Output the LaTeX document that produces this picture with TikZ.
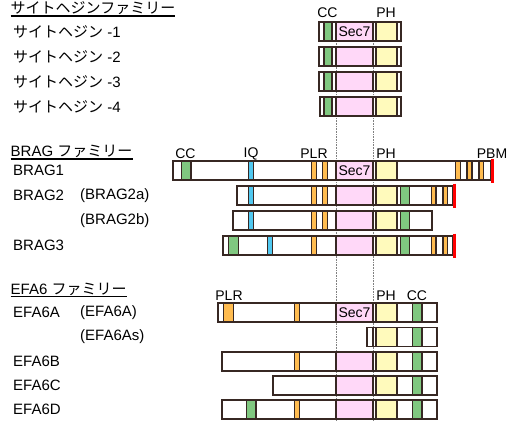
\documentclass[tikz,border=0pt]{standalone}
\usepackage{fontspec}
\setmainfont{Liberation Sans}
\newfontfamily\jpfont{Noto Sans CJK JP}
\definecolor{dom}{RGB}{55,40,35}
\definecolor{ccgreen}{RGB}{128,200,128}
\definecolor{secpink}{RGB}{255,216,248}
\definecolor{phyellow}{RGB}{255,250,188}
\definecolor{plrorange}{RGB}{255,188,80}
\definecolor{iqcyan}{RGB}{80,200,240}
\begin{document}
\begin{tikzpicture}[x=1pt,y=-1pt,
  seg/.style={draw=dom,line width=1.4pt},
  outline/.style={draw=dom,line width=1.8pt},
  lbl/.style={font=\fontsize{14}{16}\selectfont,inner sep=0pt},
  itemtxt/.style={font=\fontsize{15}{18}\selectfont,anchor=west,inner sep=0pt},
  famtxt/.style={font=\fontsize{15}{18}\selectfont,anchor=base west,inner sep=0pt},
  uline/.style={line width=1.3pt},
  guide/.style={gray,densely dotted,line width=0.6pt},
  pbm/.style={red,line width=3pt}]
\useasboundingbox (0,0) rectangle (507,421);
% guide lines for Sec7
\draw [guide] (336,22) -- (336,421);
\draw [guide] (373,22) -- (373,421);
% cytohesin family
\node [famtxt] (cytfam) at (10.5,13.5) {\jpfont サイトヘジンファミリー};
\draw [uline] (cytfam.west |- 0,16) -- (cytfam.east |- 0,16);
\node [itemtxt] (cyt1) at (13,31.5) {{\jpfont サイトヘジン} -1};
\node [itemtxt] (cyt2) at (13,56.5) {{\jpfont サイトヘジン} -2};
\node [itemtxt] (cyt3) at (13,81.5) {{\jpfont サイトヘジン} -3};
\node [itemtxt] (cyt4) at (13,106.5) {{\jpfont サイトヘジン} -4};
\foreach \y/\s in {31.5/319,56.5/319,81.5/319,106.5/320} {
  \foreach \a/\b/\c in {\s/324/white,324/332/ccgreen,332/336/white,336/373/secpink,373/376/white,376/397/phyellow,397/401/white}
    \draw [seg,fill=\c] (\a,\y-9.5) rectangle (\b,\y+9.5);
  \draw [outline] (\s,\y-9.5) rectangle (401,\y+9.5);
}
\node [lbl] (cytcc) at (327.5,13) {CC};
\node [lbl] (cytph) at (386,13) {PH};
\node [lbl] (cytsec) at (354.5,31.5) {Sec7};
% BRAG family
\node [famtxt] (bragfam) at (10.5,156.5) {BRAG {\jpfont ファミリー}};
\draw [uline] (bragfam.west |- 0,159) -- (bragfam.east |- 0,159);
\node [itemtxt] (brag1) at (13,170.5) {BRAG1};
\node [itemtxt] (brag2) at (13,195.5) {BRAG2};
\node [itemtxt] (brag2a) at (80,195.5) {(BRAG2a)};
\node [itemtxt] (brag2b) at (80,220.5) {(BRAG2b)};
\node [itemtxt] (brag3) at (13,245.5) {BRAG3};
% BRAG1
\foreach \a/\b/\c in {173/181.5/white,181.5/191/ccgreen,191/248.5/white,248.5/253.5/iqcyan,253.5/311.5/white,311.5/316.5/plrorange,316.5/322.5/white,322.5/327.5/plrorange,327.5/336/white,336/373/secpink,373/376/white,376/397/phyellow,397/455.5/white,455.5/460.5/plrorange,460.5/467/white,467/472/plrorange,472/479/white,479/483.5/plrorange,483.5/491/white}
  \draw [seg,fill=\c] (\a,161) rectangle (\b,180);
\draw [outline] (173,161) rectangle (491,180);
\draw [pbm] (492,159) -- (492,183);
% BRAG2a
\foreach \a/\b/\c in {237/248.5/white,248.5/253.5/iqcyan,253.5/311.5/white,311.5/316.5/plrorange,316.5/322.5/white,322.5/327.5/plrorange,327.5/336/white,336/373/secpink,373/376/white,376/397/phyellow,397/400.5/white,400.5/409.5/ccgreen,409.5/431.5/white,431.5/436/plrorange,436/443/white,443/447.5/plrorange,447.5/452.5/white}
  \draw [seg,fill=\c] (\a,186) rectangle (\b,205);
\draw [outline] (237,186) rectangle (452.5,205);
\draw [pbm] (454,183.5) -- (454,207.5);
% BRAG2b
\foreach \a/\b/\c in {233/248.5/white,248.5/253.5/iqcyan,253.5/311.5/white,311.5/316.5/plrorange,316.5/322.5/white,322.5/327.5/plrorange,327.5/336/white,336/373/secpink,373/376/white,376/397/phyellow,397/400.5/white,400.5/409.5/ccgreen,409.5/432/white}
  \draw [seg,fill=\c] (\a,211) rectangle (\b,230);
\draw [outline] (233,211) rectangle (432,230);
% BRAG3
\foreach \a/\b/\c in {223/228.5/white,228.5/238.5/ccgreen,238.5/267.5/white,267.5/272.5/iqcyan,272.5/311.5/white,311.5/316.5/plrorange,316.5/336/white,336/373/secpink,373/376/white,376/397/phyellow,397/400.5/white,400.5/409.5/ccgreen,409.5/431.5/white,431.5/436/plrorange,436/443/white,443/447.5/plrorange,447.5/452.5/white}
  \draw [seg,fill=\c] (\a,236) rectangle (\b,255);
\draw [outline] (223,236) rectangle (452.5,255);
\draw [pbm] (454,233.5) -- (454,257.5);
\node [lbl] (bragcc) at (185.5,154) {CC};
\node [lbl] (bragiq) at (251,154) {IQ};
\node [lbl] (bragplr) at (314,154) {PLR};
\node [lbl] (bragph) at (386,154) {PH};
\node [lbl] (bragpbm) at (492,154) {PBM};
\node [lbl] (bragsec) at (354.5,170.5) {Sec7};
% EFA6 family
\node [famtxt] (efafam) at (10.5,294) {EFA6 {\jpfont ファミリー}};
\draw [uline] (efafam.west |- 0,296.5) -- (efafam.east |- 0,296.5);
\node [itemtxt] (efa6a) at (13,312.5) {EFA6A};
\node [itemtxt] (efa6aa) at (80,312.5) {(EFA6A)};
\node [itemtxt] (efa6as) at (80,337) {(EFA6As)};
\node [itemtxt] (efa6b) at (13,361.5) {EFA6B};
\node [itemtxt] (efa6c) at (13,385.5) {EFA6C};
\node [itemtxt] (efa6d) at (13,409.5) {EFA6D};
% right part shared by all EFA6
\foreach \y in {312.5,337,361.5,385.5,409.5}
  \foreach \a/\b/\c in {373/376/white,376/397/phyellow,397/412.5/white,412.5/422/ccgreen,422/437/white}
    \draw [seg,fill=\c] (\a,\y-9.5) rectangle (\b,\y+9.5);
% EFA6A
\foreach \a/\b/\c in {218/223.5/white,223.5/233.5/plrorange,233.5/294.5/white,294.5/299.5/plrorange,299.5/336/white,336/373/secpink}
  \draw [seg,fill=\c] (\a,303) rectangle (\b,322);
\draw [outline] (218,303) rectangle (437,322);
% EFA6As
\draw [seg,fill=white] (367,327.5) rectangle (373,346.5);
\draw [outline] (367,327.5) rectangle (437,346.5);
% EFA6B
\foreach \a/\b/\c in {222/294.5/white,294.5/299.5/plrorange,299.5/336/white,336/373/secpink}
  \draw [seg,fill=\c] (\a,352) rectangle (\b,371);
\draw [outline] (222,352) rectangle (437,371);
% EFA6C
\foreach \a/\b/\c in {273/336/white,336/373/secpink}
  \draw [seg,fill=\c] (\a,376) rectangle (\b,395);
\draw [outline] (273,376) rectangle (437,395);
% EFA6D
\foreach \a/\b/\c in {222/246.5/white,246.5/256/ccgreen,256/294.5/white,294.5/299.5/plrorange,299.5/336/white,336/373/secpink}
  \draw [seg,fill=\c] (\a,400) rectangle (\b,419);
\draw [outline] (222,400) rectangle (437,419);
\node [lbl] (efaplr) at (229,296) {PLR};
\node [lbl] (efaph) at (386,296) {PH};
\node [lbl] (efacc) at (417,296) {CC};
\node [lbl] (efasec) at (354.5,312.5) {Sec7};
\end{tikzpicture}
\end{document}
